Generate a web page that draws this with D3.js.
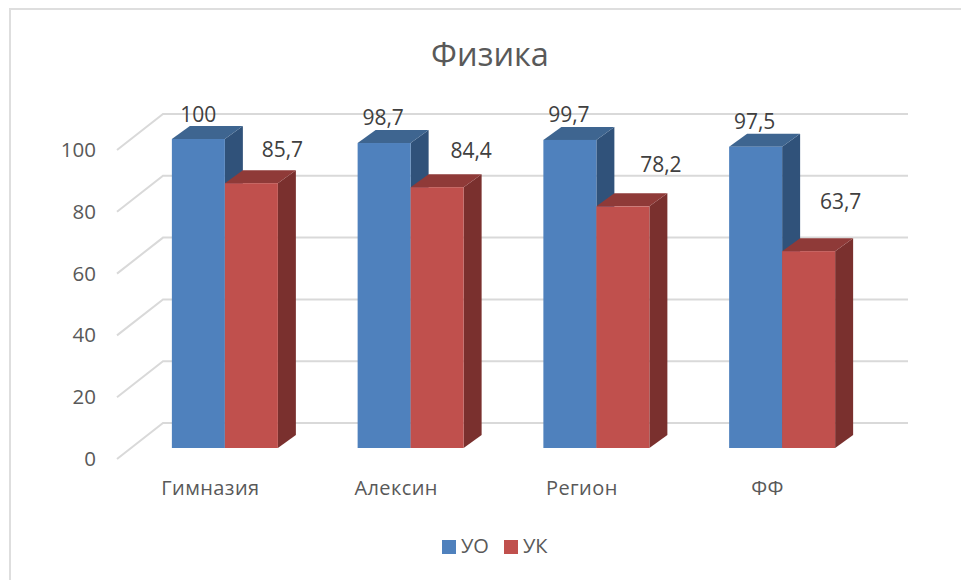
<!DOCTYPE html>
<html>
<head>
<meta charset="utf-8">
<script src="https://cdn.jsdelivr.net/npm/d3@7"></script>
<style>
body { margin: 0; background: #fff; }
text { font-family: "Open Sans", sans-serif; }
</style>
</head>
<body>
<div id="chart"></div>
<script>
// chart values
const categories = ["Гимназия", "Алексин", "Регион", "ФФ"];
const seriesNames = ["УО", "УК"];
const valuesUO = [100, 98.7, 99.7, 97.5];
const valuesUK = [85.7, 84.4, 78.2, 63.7];
const yTicks = [0, 20, 40, 60, 80, 100];

// hand placed data labels in the original: offset from the bar's top centre
const labelShiftX = [[0, -1, -1, -1], [31, 34, 38, 32]];
const labelShiftY = [[17, 18, 18, 18], [26, 29, 34, 42]];

const width = 961, height = 580;
const depthX = 18, depthY = 13;         // bar depth
const wallX = 163, wallRight = 908, wallUp = 25;   // back wall
const floorX = 117, floorDown = 11;     // front edge of the floor
const barWidth = 53;

const colors = [
    { front: "#4f81bd", top: "#3e6590", side: "#30527a" },
    { front: "#c0504d", top: "#8f3a38", side: "#7a302e" }
];

const svg = d3.select("#chart").append("svg")
    .attr("width", width)
    .attr("height", height)
    .style("display", "block");

// frame, only the left and top edges are in the picture
svg.append("path")
    .attr("d", `M10,${height}V9H${width}`)
    .attr("fill", "none")
    .attr("stroke", "#dedede")
    .attr("stroke-width", 2);

const x = d3.scaleBand().domain(categories).range([132, 875]);
const y = d3.scaleLinear().domain([0, 100]).range([448, 139]);
const inner = d3.scaleBand().domain(seriesNames).range([-barWidth, barWidth]);

// grid on the wall and floor
const grid = svg.append("g")
    .attr("fill", "none")
    .attr("stroke", "#d9d9d9")
    .attr("stroke-width", 2);
grid.selectAll("path")
    .data(yTicks)
    .join("path")
    .attr("d", d => `M${floorX},${y(d) + floorDown}L${wallX},${y(d) - wallUp}H${wallRight}`);

// y axis
const yAxis = svg.append("g")
    .attr("transform", "translate(96,11)")
    .call(d3.axisLeft(y).tickValues(yTicks).tickSize(0).tickPadding(0));
yAxis.select(".domain").remove();
yAxis.selectAll("text")
    .style("font-family", '"Open Sans", sans-serif')
    .style("font-size", "20.5px")
    .attr("fill", "#595959");

// category axis
const xAxis = svg.append("g")
    .attr("transform", "translate(-14.5,0)")
    .call(d3.axisBottom(x).tickSize(0).tickPadding(0));
xAxis.select(".domain").remove();
xAxis.selectAll("text")
    .style("font-family", '"Open Sans", sans-serif')
    .style("font-size", "20px")
    .style("letter-spacing", "0.4px")
    .attr("fill", "#595959")
    .attr("y", 495)
    .attr("dy", 0);

// bars, the first series goes first so the second one sits over its side
const allValues = [valuesUO, valuesUK];
allValues.forEach(function (values, s) {
    const g = svg.append("g").selectAll("g")
        .data(categories)
        .join("g")
        .attr("transform", d => `translate(${x(d) + x.bandwidth() / 2 + inner(seriesNames[s])},0)`);
    const w = inner.bandwidth();

    g.append("path")
        .attr("fill", colors[s].side)
        .attr("d", (d, i) => `M${w},${y(values[i])}l${depthX},${-depthY}V${y(0) - depthY}l${-depthX},${depthY}Z`);
    g.append("path")
        .attr("fill", colors[s].top)
        .attr("d", (d, i) => `M0,${y(values[i])}l${depthX},${-depthY}h${w}l${-depthX},${depthY}Z`);
    g.append("rect")
        .attr("fill", colors[s].front)
        .attr("y", (d, i) => y(values[i]))
        .attr("width", w)
        .attr("height", (d, i) => y(0) - y(values[i]));
});

// data labels
allValues.forEach(function (values, s) {
    svg.append("g").selectAll("text")
        .data(values)
        .join("text")
        .attr("x", (d, i) => x(categories[i]) + x.bandwidth() / 2 + inner(seriesNames[s]) + inner.bandwidth() / 2 + labelShiftX[s][i])
        .attr("y", (d, i) => y(d) - labelShiftY[s][i])
        .attr("text-anchor", "middle")
        .attr("font-size", 21)
        .attr("fill", "#404040")
        .text(d => String(d).replace(".", ","));
});

// title
svg.append("text")
    .attr("x", 490)
    .attr("y", 66)
    .attr("text-anchor", "middle")
    .attr("font-size", 32.5)
    .attr("fill", "#595959")
    .text("Физика");

// legend
const legendX = d3.scaleOrdinal().domain(seriesNames).range([442, 504]);
const legend = svg.append("g").selectAll("g")
    .data(seriesNames)
    .join("g")
    .attr("transform", d => `translate(${legendX(d)},540)`);
legend.append("rect")
    .attr("width", 14)
    .attr("height", 14)
    .attr("fill", (d, i) => colors[i].front);
legend.append("text")
    .attr("x", 19)
    .attr("y", 13)
    .attr("font-size", 20)
    .attr("fill", "#595959")
    .text(d => d);
</script>
</body>
</html>
